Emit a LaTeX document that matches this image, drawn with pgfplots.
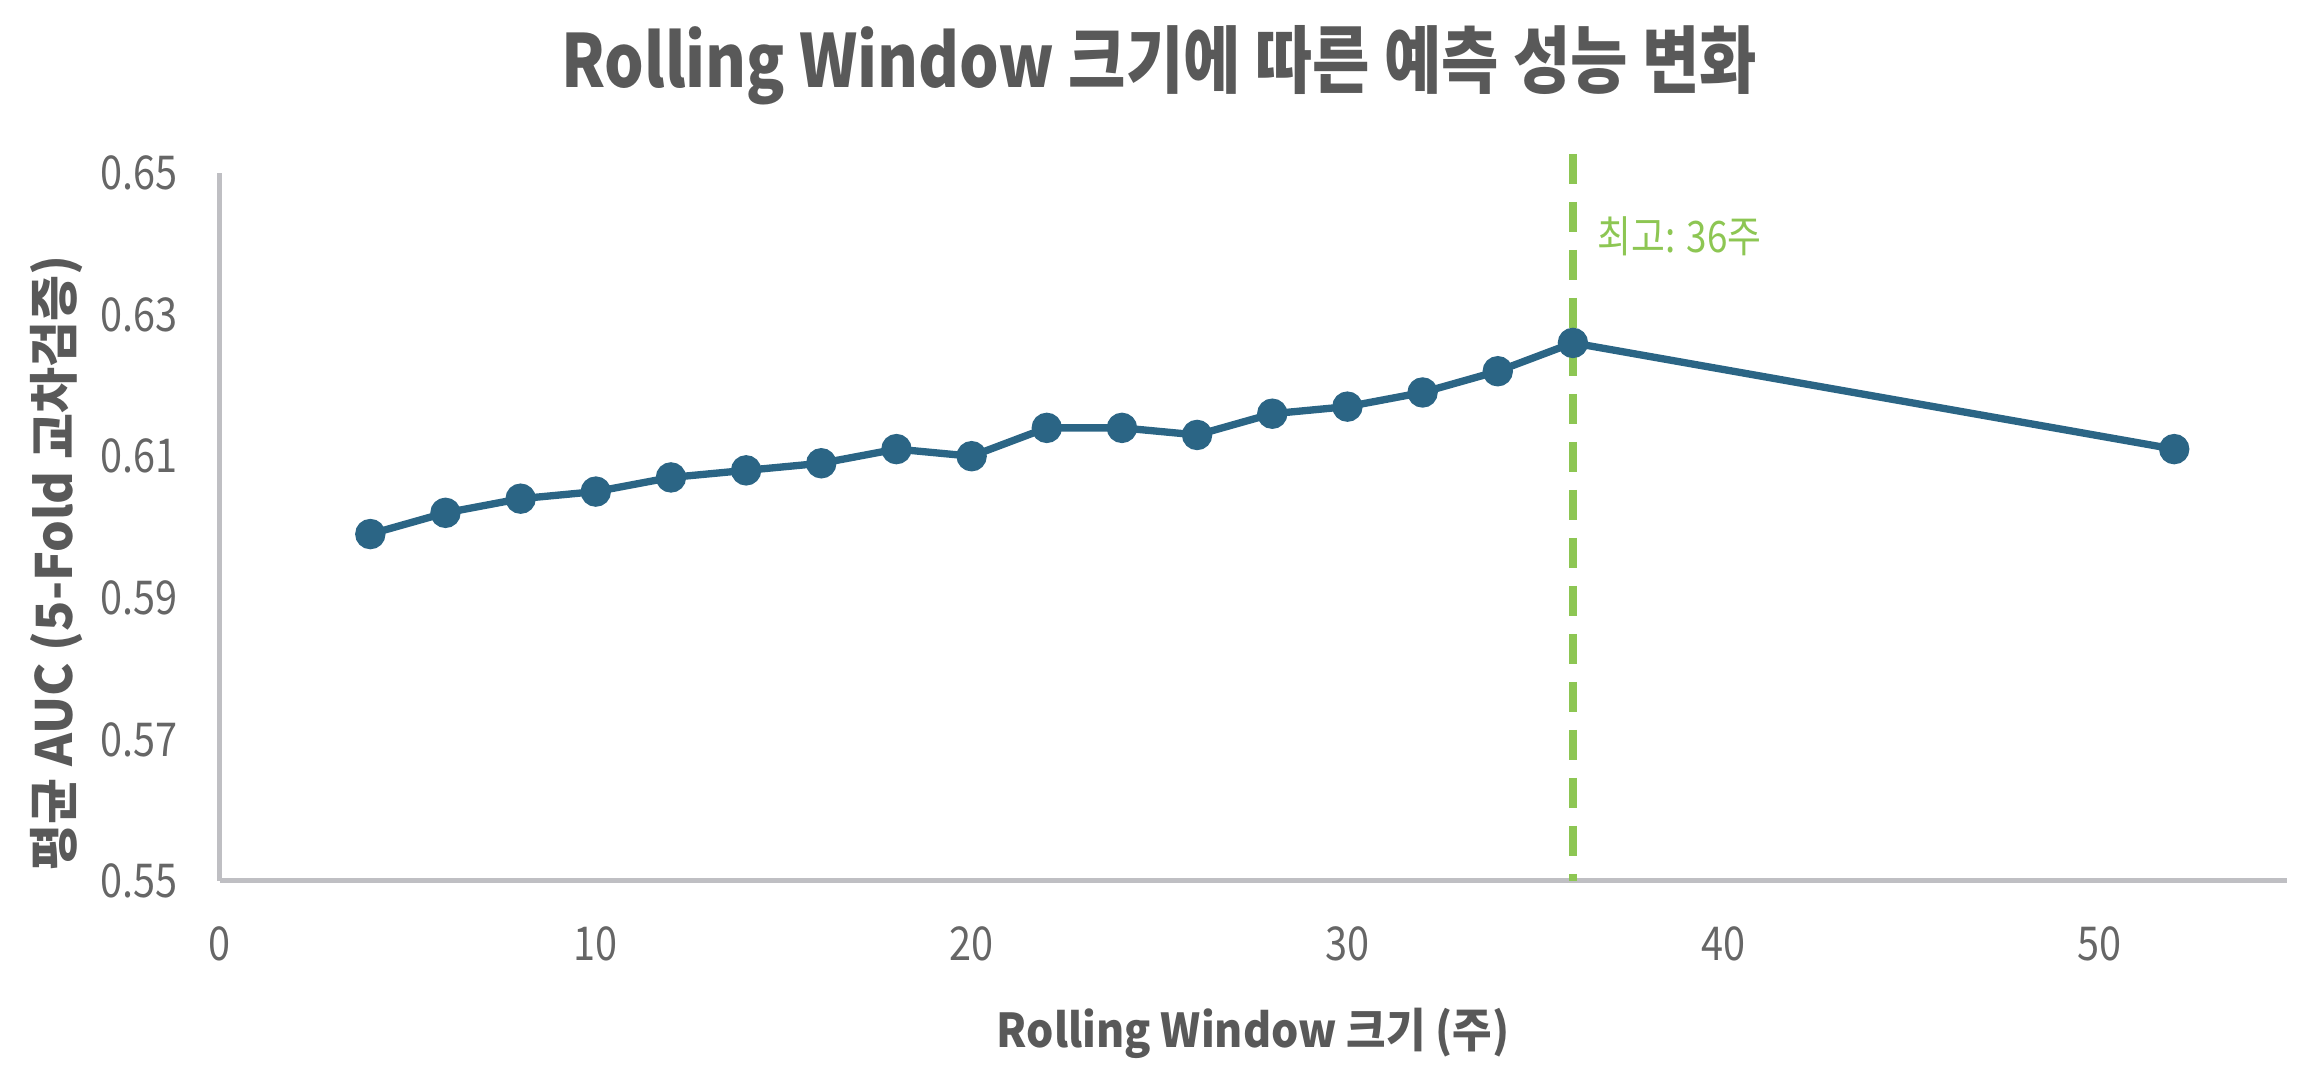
\documentclass[border=0pt]{standalone}
\usepackage{pgfplots}
\pgfplotsset{compat=1.18}
\usepackage{fontspec}
\setmainfont{Noto Sans CJK KR}
\usepackage{graphicx}
\definecolor{txt}{HTML}{595959}
\definecolor{tickc}{HTML}{666666}
\definecolor{ln}{HTML}{2B6585}
\definecolor{grn}{HTML}{8DC653}
\definecolor{axc}{HTML}{BFBFC3}
\newcommand{\sq}[1]{\scalebox{0.85}[1]{#1}}
\pgfplotstableread{
x y
4 0.599
6 0.602
8 0.604
10 0.605
12 0.607
14 0.608
16 0.609
18 0.611
20 0.610
22 0.614
24 0.614
26 0.613
28 0.616
30 0.617
32 0.619
34 0.622
36 0.626
52 0.611
}\auc
\begin{document}
\begin{tikzpicture}[x=0.3pt,y=0.3pt]
\useasboundingbox (0,0) rectangle (2318,1090);
\begin{axis}[
  at={(66pt,62.7pt)}, anchor=south west,
  scale only axis, width=620.1pt, height=212.4pt,
  xmin=0, xmax=55, ymin=0.55, ymax=0.65,
  xtick={0,10,20,30,40,50},
  ytick={0.55,0.57,0.59,0.61,0.63,0.65},
  axis lines*=left,
  axis line style={axc, line width=1.5pt},
  major tick length=0pt,
  tick style={draw=none},
  /pgf/number format/assume math mode=true,
  tick label style={font=\fontsize{14}{16}\selectfont, text=tickc},
  xticklabel style={anchor=center, inner sep=0pt, yshift=-18.9pt},
  yticklabel style={anchor=east, inner sep=0pt, xshift=-12.6pt},
  xticklabel={\sq{\pgfmathprintnumber{\tick}}},
  yticklabel={\sq{\pgfmathprintnumber[fixed,fixed zerofill,precision=2]{\tick}}},
  clip=false,
]
\addplot[grn, line width=2.4pt, dash pattern=on 9pt off 5.4pt] coordinates {(36,0.6527) (36,0.55)};
\addplot[ln, line width=2.2pt, mark=*, mark size=3.45pt, mark options={solid, fill=ln, draw=ln}] table[x=x,y=y] {\auc};
\node[anchor=west, inner sep=0pt, xshift=7.2pt, text=grn, font=\fontsize{13}{15}\selectfont] at (axis cs:36,0.641) {\sq{최고: 36주}};
\end{axis}
\node[text=txt, font=\fontsize{22}{26}\selectfont\bfseries, inner sep=0pt] at (1159,1025) {\sq{Rolling Window 크기에 따른 예측 성능 변화}};
\node[text=txt, font=\fontsize{14}{16}\selectfont\bfseries, inner sep=0pt] at (1253,57) {\scalebox{0.92}[1]{Rolling Window 크기 (주)}};
\node[text=txt, font=\fontsize{15}{17}\selectfont\bfseries, inner sep=0pt, rotate=90] at (57,527) {평균 AUC (5-Fold 교차검증)};
\end{tikzpicture}
\end{document}
